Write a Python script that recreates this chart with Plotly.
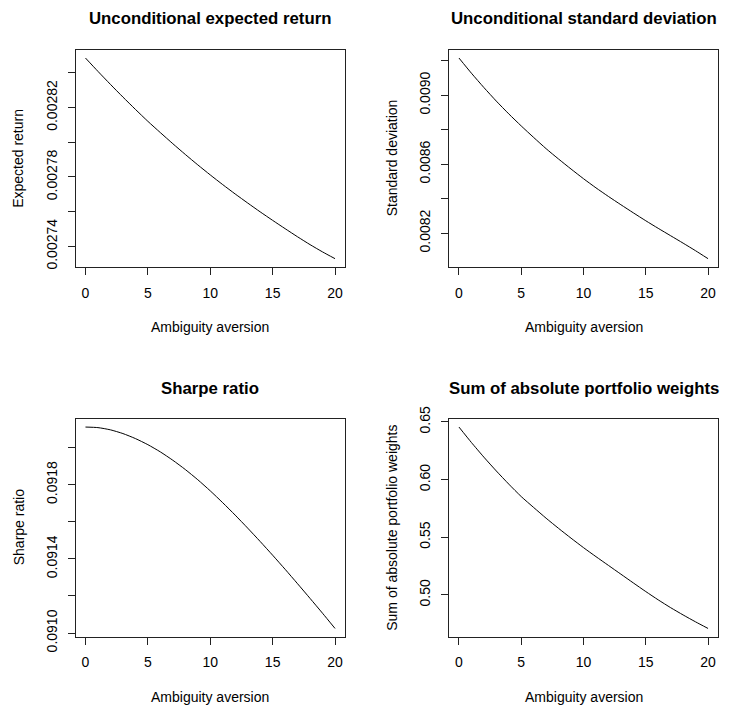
import plotly.graph_objects as go

W, H = 729, 709

# ---- data ----
ambiguity = list(range(21))

expected_return = [0.0028486, 0.0028409, 0.0028334, 0.0028261, 0.0028190, 0.0028121,
                   0.0028056, 0.0027992, 0.0027930, 0.0027870, 0.0027812, 0.0027756,
                   0.0027702, 0.0027650, 0.0027599, 0.0027550, 0.0027502, 0.0027455,
                   0.0027410, 0.0027368, 0.0027329]

std_dev = [0.009216, 0.009128, 0.009045, 0.008966, 0.008892, 0.008822, 0.008755,
           0.008690, 0.008630, 0.008572, 0.008516, 0.008463, 0.008413, 0.008365,
           0.008318, 0.008272, 0.008228, 0.008185, 0.008142, 0.008098, 0.008052]

sharpe = [0.092111, 0.092108, 0.092096, 0.092076, 0.092049, 0.092016, 0.091977,
          0.091932, 0.091882, 0.091827, 0.091767, 0.091703, 0.091636, 0.091566,
          0.091494, 0.091420, 0.091344, 0.091266, 0.091187, 0.091107, 0.091025]

abs_weights = [0.6456, 0.6322, 0.6195, 0.6075, 0.5961, 0.5853, 0.5758, 0.5665,
               0.5577, 0.5492, 0.5410, 0.5332, 0.5256, 0.5180, 0.5104, 0.5029,
               0.4957, 0.4889, 0.4826, 0.4766, 0.4709]

titles = ["Unconditional expected return", "Unconditional standard deviation",
          "Sharpe ratio", "Sum of absolute portfolio weights"]
ylabels = ["Expected return", "Standard deviation", "Sharpe ratio",
           "Sum of absolute portfolio weights"]
xlabel = "Ambiguity aversion"

x_tickvals = [0, 5, 10, 15, 20]
x_ticktext = ["0", "5", "10", "15", "20"]

er_tickvals = [0.00274, 0.00276, 0.00278, 0.00280, 0.00282, 0.00284]
er_ticktext = ["0.00274", "", "0.00278", "", "0.00282", ""]
sd_tickvals = [0.0082, 0.0084, 0.0086, 0.0088, 0.0090, 0.0092]
sd_ticktext = ["0.0082", "", "0.0086", "", "0.0090", ""]
sr_tickvals = [0.0910, 0.0912, 0.0914, 0.0916, 0.0918, 0.0920]
sr_ticktext = ["0.0910", "", "0.0914", "", "0.0918", ""]
aw_tickvals = [0.50, 0.55, 0.60, 0.65]
aw_ticktext = ["0.50", "0.55", "0.60", "0.65"]

series = [expected_return, std_dev, sharpe, abs_weights]
ytickvals = [er_tickvals, sd_tickvals, sr_tickvals, aw_tickvals]
yticktexts = [er_ticktext, sd_ticktext, sr_ticktext, aw_ticktext]

# ---- layout geometry (pixels: left, top, right, bottom of each plot box) ----
boxes = [(75.5, 50, 345, 266.7), (449, 50, 718, 266.7),
         (75.5, 419, 345, 636.5), (449, 419, 718, 636.5)]

FONT = "Liberation Sans, Arial, sans-serif"


def padded(vals, frac=0.04):
    lo, hi = min(vals), max(vals)
    d = (hi - lo) * frac
    return [lo - d, hi + d]


fig = go.Figure()
annotations = []
layout = {}
for i in range(4):
    l, t, r, b = boxes[i]
    sfx = "" if i == 0 else str(i + 1)
    xa, ya = "xaxis" + sfx, "yaxis" + sfx
    fig.add_trace(go.Scatter(x=ambiguity, y=series[i], mode="lines",
                             line=dict(color="black", width=1, shape="spline",
                                       smoothing=0.6),
                             xaxis="x" + sfx, yaxis="y" + sfx, showlegend=False,
                             hoverinfo="skip"))
    xmin, xmax = padded(ambiguity)
    layout[xa] = dict(domain=[l / W, r / W], anchor="y" + sfx,
                      range=[xmin, xmax], tickvals=x_tickvals, ticktext=x_ticktext,
                      ticks="outside", ticklen=7, tickwidth=1, tickcolor="#222",
                      showline=True, linecolor="#222", linewidth=1, mirror=True,
                      showgrid=False, zeroline=False, automargin=False,
                      ticklabelstandoff=6,
                      tickfont=dict(family=FONT, size=14, color="black"))
    layout[ya] = dict(domain=[1 - b / H, 1 - t / H], anchor="x" + sfx,
                      range=padded(series[i]), tickvals=ytickvals[i],
                      ticktext=yticktexts[i], tickangle=-90,
                      ticks="outside", ticklen=7, tickwidth=1, tickcolor="#222",
                      showline=True, linecolor="#222", linewidth=1, mirror=True,
                      showgrid=False, zeroline=False, automargin=False,
                      ticklabelstandoff=5,
                      tickfont=dict(family=FONT, size=14, color="black"))
    cx = (l + r) / 2 / W
    annotations.append(dict(text="<b>" + titles[i] + "</b>", xref="paper", yref="paper",
                            x=cx, y=1 - (t - 31) / H, xanchor="center", yanchor="middle",
                            showarrow=False,
                            font=dict(family=FONT, size=16.8, color="black")))
    annotations.append(dict(text=xlabel, xref="paper", yref="paper",
                            x=cx, y=1 - (b + 60) / H, xanchor="center", yanchor="middle",
                            showarrow=False,
                            font=dict(family=FONT, size=14, color="black")))
    annotations.append(dict(text=ylabels[i], xref="paper", yref="paper",
                            x=(l - 57) / W, y=1 - (t + b) / 2 / H, xanchor="center",
                            yanchor="middle", textangle=-90, showarrow=False,
                            font=dict(family=FONT, size=14, color="black")))

fig.update_layout(**layout)
fig.update_layout(width=W, height=H, margin=dict(l=0, r=0, t=0, b=0),
                  paper_bgcolor="white", plot_bgcolor="white",
                  annotations=annotations, showlegend=False)

fig.write_html("out.html", config={"displayModeBar": False},
               post_script="document.body.style.margin='0px';"
                           "document.body.style.overflow='hidden';")
